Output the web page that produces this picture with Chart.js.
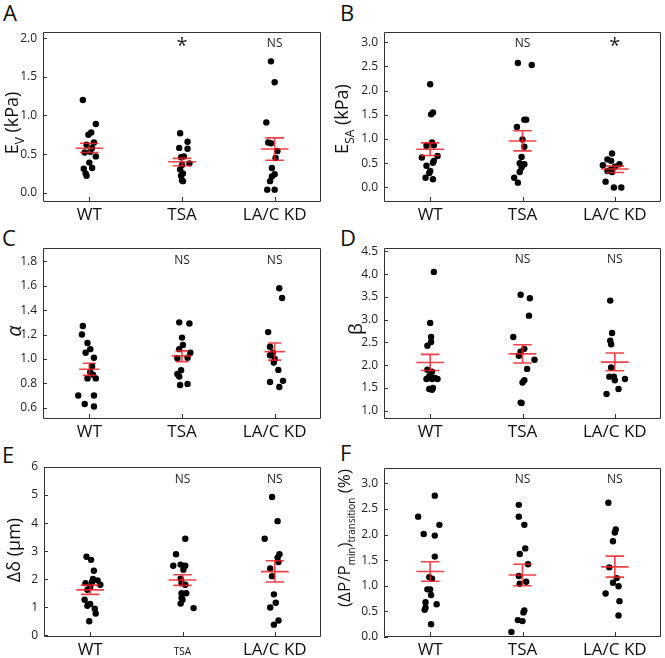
<!DOCTYPE html>
<html>
<head>
<meta charset="utf-8">
<script src="https://cdn.jsdelivr.net/npm/chart.js@4.4.1/dist/chart.umd.min.js"></script>
<style>
  body { margin: 0; background: #fff; width: 665px; height: 658px; position: relative; overflow: hidden; font-family: "Open Sans", sans-serif; }
  canvas { position: absolute; }
  .letter { position: absolute; font-size: 22px; line-height: 1; color: #111; }
</style>
</head>
<body>
<div class="letter" style="left:3px;top:1px">A</div>
<div class="letter" style="left:340px;top:1px">B</div>
<div class="letter" style="left:2px;top:226px">C</div>
<div class="letter" style="left:340px;top:226px">D</div>
<div class="letter" style="left:2px;top:443px">E</div>
<div class="letter" style="left:340px;top:441px">F</div>
<canvas id="pA" width="330" height="226" style="left:0;top:0"></canvas>
<canvas id="pB" width="335" height="226" style="left:330px;top:0"></canvas>
<canvas id="pC" width="330" height="226" style="left:0;top:215px"></canvas>
<canvas id="pD" width="335" height="226" style="left:330px;top:215px"></canvas>
<canvas id="pE" width="330" height="228" style="left:0;top:430px"></canvas>
<canvas id="pF" width="335" height="228" style="left:330px;top:430px"></canvas>
<script>
var groups = ['WT', 'TSA', 'LA/C KD'];

// A  E_V (kPa)
var evVals = [
	[1.20, 0.89, 0.78, 0.75, 0.65, 0.62, 0.58, 0.52, 0.53, 0.47, 0.39, 0.31, 0.32, 0.25, 0.22],
	[0.77, 0.66, 0.58, 0.57, 0.46, 0.47, 0.38, 0.36, 0.30, 0.25, 0.22, 0.16, 0.15],
	[1.70, 1.43, 0.91, 0.65, 0.64, 0.54, 0.45, 0.32, 0.24, 0.21, 0.15, 0.04, 0.04]
];
var evJit = [
	[-0.07, 0.07, 0.02, -0.01, 0.05, -0.03, 0.03, -0.05, 0.01, 0.07, 0, -0.06, 0.03, -0.04, -0.03],
	[-0.02, 0.06, -0.03, 0.06, -0.01, 0.02, 0.08, 0, -0.02, 0.01, -0.01, 0, 0.01],
	[-0.04, 0, -0.09, -0.07, -0.04, 0.03, 0.01, -0.03, 0, -0.03, -0.05, -0.08, 0]
];
var evMean = [0.575, 0.40, 0.565];
var evHi = [0.64, 0.445, 0.71];
var evLo = [0.52, 0.35, 0.42];
var evTicks = [0, 0.5, 1.0, 1.5, 2.0];

// B  E_SA (kPa)
var esaVals = [
	[2.13, 1.51, 1.55, 0.93, 0.87, 0.86, 0.62, 0.65, 0.55, 0.51, 0.45, 0.34, 0.30, 0.20, 0.17],
	[2.57, 2.53, 1.40, 1.40, 1.25, 0.99, 0.84, 0.63, 0.50, 0.48, 0.41, 0.32, 0.20, 0.10],
	[0.70, 0.58, 0.55, 0.46, 0.48, 0.43, 0.37, 0.34, 0.32, 0.12, 0.0, 0.0]
];
var esaJit = [
	[0, 0.01, 0.03, 0.02, 0.04, -0.04, -0.09, 0.08, 0.04, 0.03, -0.04, 0, -0.01, -0.05, 0.03],
	[-0.05, 0.10, 0.02, 0.04, -0.06, 0, 0.02, -0.01, -0.03, 0.02, -0.01, -0.03, -0.09, -0.05],
	[-0.03, -0.08, -0.04, -0.13, 0.05, 0, -0.04, -0.08, -0.03, -0.10, -0.01, 0.07]
];
var esaMean = [0.79, 0.96, 0.38];
var esaHi = [0.92, 1.17, 0.44];
var esaLo = [0.66, 0.755, 0.31];
var esaTicks = [0, 0.5, 1.0, 1.5, 2.0, 2.5, 3.0];

// C  alpha
var alphaVals = [
	[1.27, 1.20, 1.13, 1.08, 1.05, 1.01, 0.94, 0.89, 0.87, 0.84, 0.84, 0.70, 0.70, 0.63, 0.61],
	[1.30, 1.29, 1.175, 1.115, 1.08, 1.05, 1.005, 1.01, 0.907, 0.877, 0.855, 0.786, 0.795],
	[1.58, 1.50, 1.22, 1.10, 1.05, 1.03, 1.00, 0.97, 0.91, 0.82, 0.81, 0.77]
];
var alphaJit = [
	[-0.07, -0.08, -0.02, 0.01, -0.04, 0.05, 0.03, 0.01, 0.04, -0.02, 0.07, -0.12, 0.05, -0.05, 0.05],
	[-0.03, 0.08, 0, 0.01, -0.03, 0.09, -0.05, 0.06, -0.01, -0.05, -0.03, -0.02, 0.06],
	[0.05, 0.08, -0.07, -0.05, -0.02, -0.05, 0, -0.01, 0.04, 0.09, -0.05, 0.05]
];
var alphaMean = [0.915, 1.025, 1.06];
var alphaHi = [0.965, 1.066, 1.13];
var alphaLo = [0.865, 0.978, 0.99];
var alphaTicks = [0.6, 0.8, 1.0, 1.2, 1.4, 1.6, 1.8];

// D  beta
var betaVals = [
	[4.05, 2.93, 2.62, 2.51, 2.43, 1.90, 1.86, 1.70, 1.76, 1.70, 1.72, 1.70, 1.74, 1.48, 1.46, 1.50],
	[3.55, 3.47, 3.09, 2.62, 2.36, 2.30, 2.21, 2.12, 1.92, 1.67, 1.62, 1.18, 1.17],
	[3.42, 2.71, 2.54, 2.46, 1.95, 1.75, 1.75, 1.67, 1.70, 1.48, 1.37]
];
var betaJit = [
	[0.04, 0, 0.01, 0.01, -0.03, -0.03, 0.02, -0.04, -0.01, 0.02, 0.05, 0.08, 0.01, -0.01, 0.02, 0.03],
	[-0.02, 0.08, 0.07, -0.10, 0.02, -0.02, -0.04, 0.13, 0.05, 0.02, 0, -0.02, -0.01],
	[-0.05, -0.03, -0.05, -0.04, -0.04, -0.06, -0.01, 0, 0.11, 0.04, -0.09]
];
var betaMean = [2.06, 2.25, 2.07];
var betaHi = [2.24, 2.45, 2.27];
var betaLo = [1.886, 2.05, 1.88];
var betaTicks = [1.0, 1.5, 2.0, 2.5, 3.0, 3.5, 4.0, 4.5];

// E  delta (um)
var deltaVals = [
	[2.80, 2.69, 2.30, 1.86, 1.96, 2.01, 1.90, 1.80, 1.72, 1.62, 1.27, 1.10, 1.12, 1.05, 0.95, 0.78, 0.50],
	[3.44, 2.89, 2.48, 2.52, 2.48, 2.34, 2.02, 1.86, 1.80, 1.50, 1.50, 1.34, 1.27, 1.13, 0.97],
	[4.93, 4.07, 3.44, 2.89, 2.77, 2.61, 2.38, 2.11, 1.46, 1.16, 0.99, 0.53, 0.38]
];
var deltaJit = [
	[-0.04, 0.01, 0.04, -0.05, 0.08, 0.03, 0.02, 0.11, 0, -0.03, -0.06, -0.02, 0, -0.03, 0.05, 0.06, -0.01],
	[0.03, -0.07, -0.10, -0.02, 0.03, 0.01, -0.02, -0.01, 0.03, -0.01, 0.04, -0.01, 0, -0.02, 0.12],
	[-0.03, 0.03, -0.11, 0.05, 0.03, 0.04, -0.05, -0.03, -0.01, 0.01, -0.05, 0.04, -0.01]
];
var deltaMean = [1.62, 1.97, 2.27];
var deltaHi = [1.79, 2.16, 2.66];
var deltaLo = [1.46, 1.78, 1.90];
var deltaTicks = [0, 1, 2, 3, 4, 5, 6];

// F  (dP/Pmin)transition (%)
var presVals = [
	[2.76, 2.35, 2.19, 2.01, 1.98, 1.57, 1.17, 1.14, 0.93, 0.93, 0.82, 0.64, 0.68, 0.57, 0.53, 0.25],
	[2.58, 2.35, 2.19, 1.73, 1.62, 1.42, 1.19, 1.08, 1.04, 0.52, 0.48, 0.33, 0.31, 0.10],
	[2.62, 2.10, 2.04, 1.87, 1.36, 1.06, 0.99, 1.15, 0.85, 0.70, 0.42]
];
var presJit = [
	[0.05, -0.13, 0.10, -0.07, 0.05, 0.05, -0.01, 0.02, -0.03, 0, 0.01, 0.07, -0.05, -0.05, -0.06, 0.01],
	[-0.04, -0.04, 0.02, 0.03, -0.03, 0.06, -0.04, 0.04, -0.03, 0.02, 0.01, -0.05, 0, -0.12],
	[-0.07, 0.01, 0, -0.02, -0.06, -0.02, 0.04, 0.02, -0.10, 0.05, 0.04]
];
var presMean = [1.28, 1.21, 1.37];
var presHi = [1.47, 1.42, 1.58];
var presLo = [1.09, 1.00, 1.17];
var presTicks = [0, 0.5, 1.0, 1.5, 2.0, 2.5, 3.0];

var FONT = '"Open Sans", sans-serif';

// box, inward ticks, significance marks and rich y title
var panelDeco = {
	id: 'panelDeco',
	afterDraw: function(chart, args, o){
		var ctx = chart.ctx, a = chart.chartArea, xs = chart.scales.x, ys = chart.scales.y;
		ctx.save();
		ctx.strokeStyle = '#333';
		ctx.lineWidth = 1;
		ctx.beginPath();
		ctx.rect(a.left + 0.5, a.top + 0.5, a.right - a.left - 1, a.bottom - a.top - 1);
		ys.ticks.forEach(function(t){
			var py = Math.round(ys.getPixelForValue(t.value)) + 0.5;
			ctx.moveTo(a.left, py); ctx.lineTo(a.left + 4, py);
		});
		xs.ticks.forEach(function(t){
			var px = Math.round(xs.getPixelForValue(t.value)) + 0.5;
			ctx.moveTo(px, a.bottom); ctx.lineTo(px, a.bottom - 5);
		});
		ctx.stroke();

		ctx.fillStyle = '#222';
		ctx.textAlign = 'center';
		ctx.textBaseline = 'middle';
		o.sig.forEach(function(s, i){
			if (!s) return;
			var px = xs.getPixelForValue(i + 1), py = ys.getPixelForValue(o.sigY);
			ctx.font = (s === '*' ? '20px ' : '12px ') + FONT;
			ctx.fillText(s, px, s === '*' ? py + 3 : py);
		});

		// rotated title with subscripts
		var size = o.titleSize, sub = Math.round(size * o.subRatio);
		ctx.fillStyle = '#111';
		ctx.translate(o.titleX, o.titleY);
		ctx.rotate(-Math.PI / 2);
		ctx.textAlign = 'left';
		ctx.textBaseline = 'alphabetic';
		var total = 0;
		o.title.forEach(function(seg){
			ctx.font = (seg[2] || '') + ' ' + (seg[1] ? sub : size) + 'px ' + FONT;
			seg.w = ctx.measureText(seg[0]).width;
			total += seg.w;
		});
		var cx = -total / 2, base = size * 0.36;
		o.title.forEach(function(seg){
			ctx.font = (seg[2] || '') + ' ' + (seg[1] ? sub : size) + 'px ' + FONT;
			ctx.fillText(seg[0], cx, seg[1] ? base + size * 0.3 : base);
			cx += seg.w;
		});
		ctx.restore();
	}
};

function errBarData(mean, hi, lo, wMean, wCap){
	var pts = [];
	mean.forEach(function(m, i){
		var c = i + 1;
		pts.push({x: c - wMean, y: m}, {x: c + wMean, y: m}, {x: c, y: null});
		pts.push({x: c - wCap, y: hi[i]}, {x: c + wCap, y: hi[i]}, {x: c, y: null});
		pts.push({x: c - wCap, y: lo[i]}, {x: c + wCap, y: lo[i]}, {x: c, y: null});
		pts.push({x: c, y: lo[i]}, {x: c, y: hi[i]}, {x: c, y: null});
	});
	return pts;
}

function make_panel(id, p){
	var cv = document.getElementById(id);
	var cLeft = parseFloat(cv.style.left) || 0, cTop = parseFloat(cv.style.top) || 0;
	var pts = [];
	p.vals.forEach(function(arr, i){
		arr.forEach(function(v, j){ pts.push({x: i + 1 + p.jit[i][j], y: v}); });
	});
	var ticks = p.ticks;
	new Chart(cv, {
		type: 'scatter',
		data: {
			datasets: [{
				data: errBarData(p.mean, p.hi, p.lo, p.wMean || 0.15, p.wCap || 0.1),
				showLine: true,
				borderColor: 'rgba(236,32,39,0.85)',
				borderWidth: 1.6,
				pointRadius: 0,
				spanGaps: false
			}, {
				data: pts,
				backgroundColor: '#000',
				borderWidth: 0,
				pointRadius: 3.2
			}]
		},
		options: {
			responsive: false,
			animation: false,
			devicePixelRatio: 1,
			layout: { padding: { top: p.box[1] - cTop, right: cLeft + cv.width - p.box[2], left: 0, bottom: 0 } },
			plugins: {
				legend: { display: false },
				tooltip: { enabled: false },
				panelDeco: { sig: p.sig, sigY: p.sigY, title: p.title, titleX: p.titleX, titleY: p.titleY,
					titleSize: p.titleSize || 18, subRatio: p.subRatio || 0.68 }
			},
			scales: {
				x: {
					type: 'linear', min: 0.5, max: 3.5,
					grid: { display: false, drawTicks: false },
					border: { display: false },
					afterBuildTicks: function(ax){ ax.ticks = [1, 2, 3].map(function(v){ return {value: v}; }); },
					afterFit: function(ax){ ax.height = cv.height - (p.box[3] - cTop); },
					ticks: {
						padding: 3,
						color: '#111',
						font: function(c){
							if (p.smallTSA && c.tick && c.tick.value === 2) return { family: FONT, size: 10, lineHeight: 2.5 };
							return { family: FONT, size: 17 };
						},
						callback: function(v){ return groups[v - 1]; }
					}
				},
				y: {
					min: p.yMin, max: p.yMax,
					grid: { display: false, drawTicks: false },
					border: { display: false },
					afterBuildTicks: function(ax){ ax.ticks = ticks.map(function(v){ return {value: v}; }); },
					afterFit: function(ax){ ax.width = p.box[0] - cLeft; },
					ticks: {
						padding: 6,
						color: '#222',
						font: { family: FONT, size: 12 },
						callback: function(v){ return v.toFixed(p.dec); }
					}
				}
			}
		},
		plugins: [panelDeco]
	});
}

make_panel('pA', { vals: evVals, jit: evJit, mean: evMean, hi: evHi, lo: evLo, ticks: evTicks, dec: 1,
	yMin: -0.12, yMax: 2.08, box: [43, 32, 321, 202], sig: ['', '*', 'NS'], sigY: 1.93,
	title: [['E', 0], ['V', 1], [' (kPa)', 0]], titleX: 12, titleY: 123 });
make_panel('pB', { vals: esaVals, jit: esaJit, mean: esaMean, hi: esaHi, lo: esaLo, ticks: esaTicks, dec: 1,
	yMin: -0.30, yMax: 3.21, box: [384, 32, 663, 202], sig: ['', 'NS', '*'], sigY: 2.97,
	title: [['E', 0], ['SA', 1], [' (kPa)', 0]], titleX: 12, titleY: 119 });
make_panel('pC', { vals: alphaVals, jit: alphaJit, mean: alphaMean, hi: alphaHi, lo: alphaLo, ticks: alphaTicks, dec: 1,
	yMin: 0.507, yMax: 1.91, box: [43, 248, 321, 419], sig: ['', 'NS', 'NS'], sigY: 1.81,
	wMean: 0.11, wCap: 0.07,
	title: [['α', 0, 'italic']], titleX: 14, titleY: 116, titleSize: 20 });
make_panel('pD', { vals: betaVals, jit: betaJit, mean: betaMean, hi: betaHi, lo: betaLo, ticks: betaTicks, dec: 1,
	yMin: 0.82, yMax: 4.575, box: [384, 248, 663, 419], sig: ['', 'NS', 'NS'], sigY: 4.32,
	title: [['β', 0]], titleX: 25, titleY: 114, titleSize: 19 });
make_panel('pE', { vals: deltaVals, jit: deltaJit, mean: deltaMean, hi: deltaHi, lo: deltaLo, ticks: deltaTicks, dec: 0,
	yMin: -0.06, yMax: 6.0, box: [44, 467, 321, 637], sig: ['', 'NS', 'NS'], sigY: 5.55, smallTSA: true,
	title: [['Δδ (μm)', 0]], titleX: 14, titleY: 120 });
make_panel('pF', { vals: presVals, jit: presJit, mean: presMean, hi: presHi, lo: presLo, ticks: presTicks, dec: 1,
	yMin: 0, yMax: 3.3, box: [384, 468, 663, 637], sig: ['', 'NS', 'NS'], sigY: 3.08,
	title: [['(ΔP/P', 0], ['min', 1], [')', 0], ['transition', 1], [' (%)', 0]], titleX: 14, titleY: 108,
	titleSize: 17, subRatio: 0.6 });
</script>
</body>
</html>
